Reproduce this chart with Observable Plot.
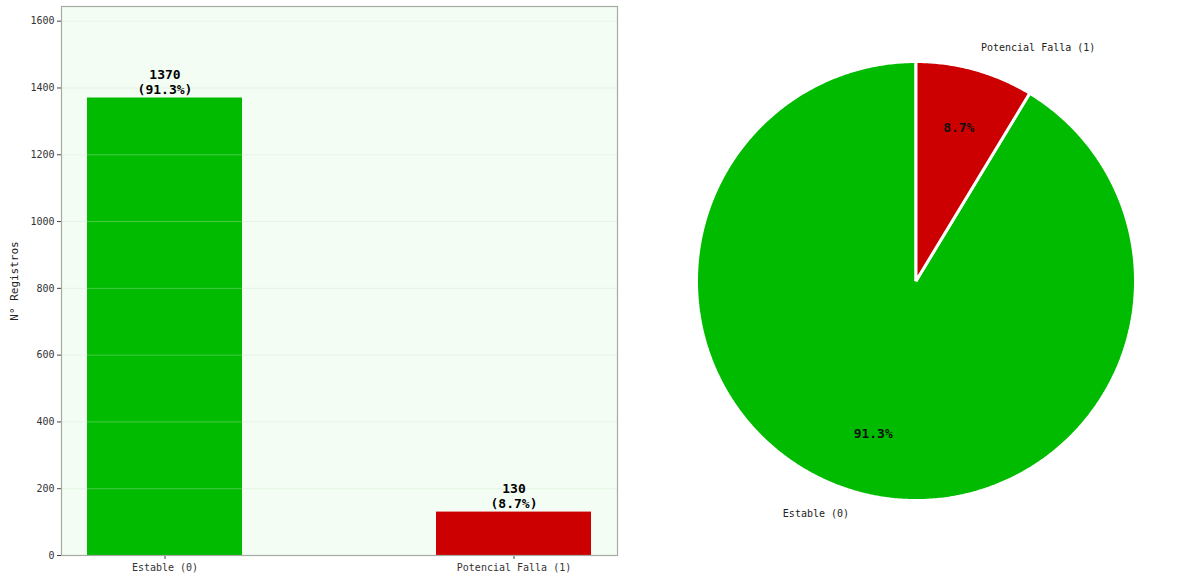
<!DOCTYPE html>
<html>
<head>
<meta charset="utf-8">
<script src="https://cdn.jsdelivr.net/npm/d3@7"></script>
<script src="https://cdn.jsdelivr.net/npm/@observablehq/plot@0.6"></script>
<style>
  html, body { margin: 0; padding: 0; background: #fff; }
  #wrap { display: flex; width: 1200px; height: 584px; overflow: hidden; }
  svg { font-family: "DejaVu Sans Mono", monospace; }
</style>
</head>
<body>
<div id="wrap"></div>
<script>
// ---- data ----
const categories = ["Estable (0)", "Potencial Falla (1)"];
const counts = [1370, 130];
const colors = ["#00bb00", "#cc0000"];
const yTicks = [0, 200, 400, 600, 800, 1000, 1200, 1400, 1600];
const yLabel = "N° Registros";

const total = d3.sum(counts);
const rows = categories.map((c, i) => ({
  cat: c, n: counts[i], color: colors[i],
  pct: (100 * counts[i] / total).toFixed(1) + "%"
}));

const font = "DejaVu Sans Mono";

// ---- bar chart ----
const bar = Plot.plot({
  width: 620, height: 584,
  marginLeft: 61, marginRight: 3, marginTop: 6, marginBottom: 29,
  style: { fontFamily: font, fontSize: "10px", color: "#333", background: "transparent" },
  x: { domain: categories, paddingInner: 0.5565, paddingOuter: 0.0737, label: null },
  y: { domain: [0, 1644], label: null },
  marks: [
    Plot.frame({ fill: "#f4fdf4", stroke: null }),
    Plot.barY(rows, { x: "cat", y: "n", fill: "color" }),
    Plot.gridY(yTicks, { stroke: "#c8e6c8", strokeOpacity: 0.35, strokeWidth: 1 }),
    Plot.text(rows, {
      x: "cat", y: "n", text: d => `${d.n}\n(${d.pct})`,
      lineAnchor: "bottom", dy: -4, lineHeight: 1.15,
      fontSize: 13, fontWeight: "bold", fill: "#000"
    }),
    Plot.axisY(yTicks, { tickSize: 4, tickPadding: 3, tickFormat: d => String(d), fontSize: 10, fill: "#333", stroke: "#444" }),
    Plot.axisX(categories, { tickSize: 4, tickPadding: 4, fontSize: 10, fill: "#333", stroke: "#444" }),
    Plot.frame({ stroke: "#a3aba3", strokeWidth: 1.2 })
  ]
});
const lab = document.createElementNS("http://www.w3.org/2000/svg", "text");
lab.setAttribute("transform", "translate(15,281) rotate(-90)");
lab.setAttribute("text-anchor", "middle");
lab.setAttribute("dominant-baseline", "middle");
lab.setAttribute("font-size", "11");
lab.setAttribute("font-family", font);
lab.setAttribute("fill", "#222");
lab.textContent = yLabel;
bar.appendChild(lab);

// ---- pie chart ----
const a0 = 2 * Math.PI * counts[1] / total;
const arcs = d3.pie().sort(null).value(d => d.n).startAngle(a0).endAngle(a0 + 2 * Math.PI)(rows);
const pts = [];
arcs.forEach(a => {
  pts.push({ x: 0, y: 0, cat: a.data.cat, color: a.data.color });
  const steps = Math.max(4, Math.ceil((a.endAngle - a.startAngle) / (Math.PI / 360)));
  for (let k = 0; k <= steps; k++) {
    const t = a.startAngle + (a.endAngle - a.startAngle) * k / steps;
    pts.push({ x: Math.sin(t), y: Math.cos(t), cat: a.data.cat, color: a.data.color });
  }
});
const labels = arcs.map(a => {
  const m = (a.startAngle + a.endAngle) / 2;
  return {
    cat: a.data.cat, pct: a.data.pct,
    lx: 1.1 * Math.sin(m), ly: 1.1 * Math.cos(m),
    px: 0.725 * Math.sin(m), py: 0.725 * Math.cos(m),
    anchor: Math.sin(m) >= 0 ? "start" : "end"
  };
});

const cx = 295.5, cy = 280.5, R = 219.5;
const pie = Plot.plot({
  width: 580, height: 584,
  margin: 0,
  style: { fontFamily: font, background: "transparent" },
  x: { domain: [-1, 1], range: [cx - R, cx + R], axis: null },
  y: { domain: [-1, 1], range: [cy + R, cy - R], axis: null },
  marks: [
    Plot.line(pts, { x: "x", y: "y", z: "cat", fill: "color", stroke: "#fff", strokeWidth: 3, curve: "linear-closed", strokeLinejoin: "miter" }),
    Plot.text(labels.filter(d => d.anchor === "start"), { x: "lx", y: "ly", text: "cat", textAnchor: "start", fontSize: 10, fill: "#222", dy: -1 }),
    Plot.text(labels.filter(d => d.anchor === "end"), { x: "lx", y: "ly", text: "cat", textAnchor: "end", fontSize: 10, fill: "#222", dx: -2 }),
    Plot.text(labels, { x: "px", y: "py", text: "pct", fontSize: 13, fontWeight: "bold", fill: "#111" })
  ]
});

const wrap = document.getElementById("wrap");
wrap.appendChild(bar);
wrap.appendChild(pie);
</script>
</body>
</html>
